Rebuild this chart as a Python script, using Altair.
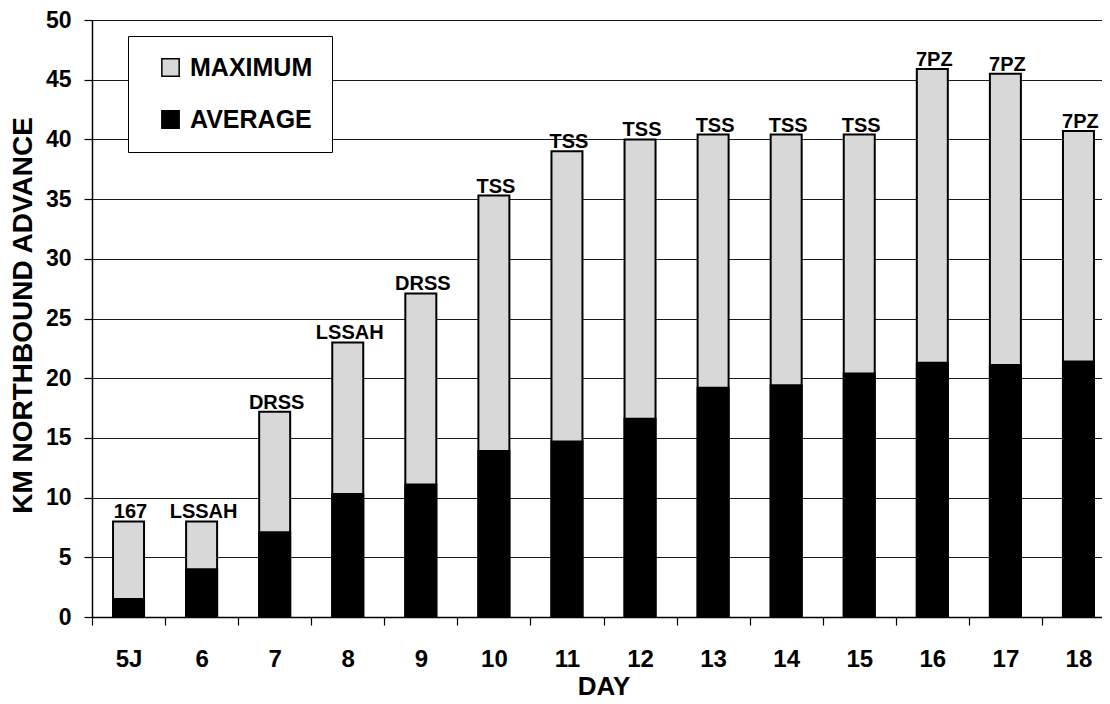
import altair as alt
import pandas as pd

days = ["5J", "6", "7", "8", "9", "10", "11", "12", "13", "14", "15", "16", "17", "18"]
maximum = [8.0, 8.0, 17.2, 23.0, 27.1, 35.3, 39.0, 40.0, 40.4, 40.4, 40.4, 45.9, 45.5, 40.7]
average = [1.5, 4.0, 7.1, 10.3, 11.1, 13.9, 14.7, 16.6, 19.2, 19.4, 20.4, 21.3, 21.1, 21.4]
units = ["167", "LSSAH", "DRSS", "LSSAH", "DRSS", "TSS", "TSS", "TSS", "TSS", "TSS", "TSS", "7PZ", "7PZ", "7PZ"]
series = ["MAXIMUM", "AVERAGE"]
series_colors = ["#d8d8d8", "#000000"]
y_ticks = [0, 5, 10, 15, 20, 25, 30, 35, 40, 45, 50]

rows = [{"day": d, "series": "MAXIMUM", "km": v} for d, v in zip(days, maximum)]
rows += [{"day": d, "series": "AVERAGE", "km": v} for d, v in zip(days, average)]
bars_df = pd.DataFrame(rows)
labels_df = pd.DataFrame({"day": days, "km": maximum, "unit": units})

FONT = "Liberation Sans"

x_enc = alt.X(
    "day:N",
    sort=days,
    scale=alt.Scale(range=[0, 1023], paddingInner=0, paddingOuter=0),
    axis=alt.Axis(
        title="DAY",
        labelAngle=0,
        tickBand="extent",
        tickSize=8,
        tickColor="black",
        tickWidth=1.2,
        domainColor="black",
        domainWidth=1.5,
        labelPadding=22,
        labelFont=FONT,
        labelFontSize=24,
        labelFontWeight="bold",
        labelColor="black",
        titleFont=FONT,
        titleFontSize=26,
        titleFontWeight="bold",
        titleColor="black",
        titleBaseline="alphabetic",
        titleY=77,
        grid=False,
    ),
)

y_enc = alt.Y(
    "km:Q",
    stack=None,
    scale=alt.Scale(domain=[0, 50], nice=False, zero=True),
    axis=alt.Axis(
        title="KM NORTHBOUND ADVANCE",
        values=y_ticks,
        tickSize=8,
        tickColor="black",
        tickWidth=1.2,
        domainColor="black",
        domainWidth=1.5,
        labelPadding=13,
        labelFont=FONT,
        labelFontSize=23,
        labelFontWeight="bold",
        labelColor="black",
        titleFont=FONT,
        titleFontSize=28,
        titleFontWeight="bold",
        titleColor="black",
        titleBaseline="alphabetic",
        titleX=-61,
        titleY=295,
        grid=True,
        gridColor="#1a1a1a",
        gridWidth=1.2,
    ),
)

bars = alt.Chart(bars_df).mark_bar(size=31, stroke="black", strokeWidth=2).encode(
    x=x_enc,
    y=y_enc,
    color=alt.Color(
        "series:N",
        scale=alt.Scale(domain=series, range=series_colors),
        legend=alt.Legend(
            title=None,
            orient="none",
            legendX=36,
            legendY=16,
            padding=19,
            symbolOffset=11,
            fillColor="white",
            strokeColor="black",
            symbolType="square",
            symbolSize=300,
            symbolStrokeColor="black",
            symbolStrokeWidth=1.5,
            labelFont=FONT,
            labelFontSize=25,
            labelFontWeight="bold",
            labelColor="black",
            labelOffset=7,
            rowPadding=26,
        ),
    ),
)

texts = alt.Chart(labels_df).mark_text(
    baseline="alphabetic",
    dy=-3,
    dx=2,
    font=FONT,
    fontSize=20,
    fontWeight="bold",
    color="black",
).encode(
    x=alt.X("day:N", sort=days),
    y=alt.Y("km:Q"),
    text="unit:N",
)

chart = (
    alt.layer(bars, texts)
    .properties(
        width=1010,
        height=597,
        autosize=alt.AutoSizeParams(type="none"),
        padding={"left": 84, "top": 12, "right": 0, "bottom": 85},
        background="white",
    )
    .configure_view(stroke=None)
)

chart.save("out.html", embed_options={"renderer": "svg", "actions": False})
